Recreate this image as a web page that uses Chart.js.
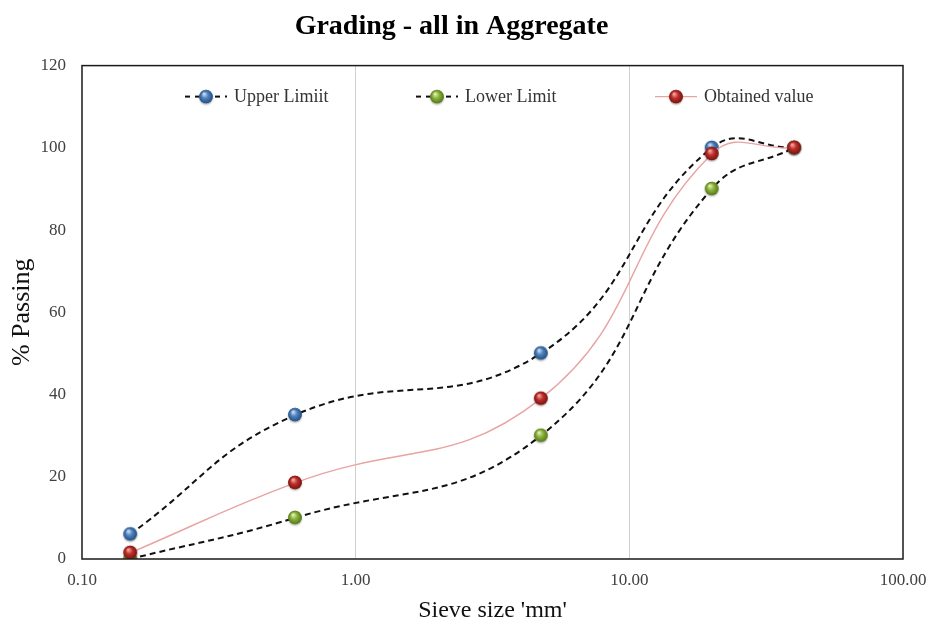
<!DOCTYPE html>
<html>
<head>
<meta charset="utf-8">
<script src="https://cdn.jsdelivr.net/npm/chart.js@4"></script>
<style>
  html, body { margin: 0; padding: 0; background: #ffffff; }
  #wrap { width: 927px; height: 631px; }
</style>
</head>
<body>
<div id="wrap"><canvas id="chart" width="927" height="631"></canvas></div>
<script>
// Sieve sizes (mm) and percentage passing
const sieveSizes = [0.15, 0.6, 4.75, 20, 40];
const upperLimit = [6, 35, 50, 100, 100];
const lowerLimit = [0, 10, 30, 90, 100];
const obtainedValue = [1.5, 18.5, 39, 98.5, 100];

const seriesNames = ['Upper Limiit', 'Lower Limit', 'Obtained value'];
const xTickValues = [0.1, 1, 10, 100];
const yTicks = { min: 0, max: 120, step: 20 };

const SERIF = '"Liberation Serif", "Times New Roman", serif';

// Glossy ball marker drawn once onto an offscreen canvas
function ballMarker(light, base, dark) {
  const size = 20, c = document.createElement('canvas');
  c.width = size; c.height = size;
  const g = c.getContext('2d');
  const cx = 10, cy = 9.5, r = 6.8;
  g.save();
  g.shadowColor = 'rgba(0,0,0,0.35)';
  g.shadowBlur = 2;
  g.shadowOffsetY = 1.2;
  g.beginPath(); g.arc(cx, cy, r, 0, Math.PI * 2);
  g.fillStyle = base; g.fill();
  g.restore();
  const grad = g.createRadialGradient(cx - 2, cy - 2.8, 0.5, cx, cy, r);
  grad.addColorStop(0, light);
  grad.addColorStop(0.45, base);
  grad.addColorStop(1, dark);
  g.beginPath(); g.arc(cx, cy, r, 0, Math.PI * 2);
  g.fillStyle = grad; g.fill();
  return c;
}

const markers = [
  ballMarker('#c9ddf5', '#4f81bd', '#25507f'),
  ballMarker('#e2f0b8', '#8cb43c', '#55761a'),
  ballMarker('#f5a7a3', '#c0302b', '#741410')
];

const lineStyles = [
  { color: '#111111', width: 2, dash: [6, 4] },
  { color: '#111111', width: 2, dash: [6, 4] },
  { color: '#e8a3a3', width: 1.4, dash: [] }
];

// Later series are painted on top of earlier ones
const drawOrder = [3, 2, 1];

function toPoints(ys) {
  return sieveSizes.map((x, i) => ({ x: x, y: ys[i] }));
}

const datasets = [upperLimit, lowerLimit, obtainedValue].map((vals, i) => ({
  label: seriesNames[i],
  data: toPoints(vals),
  order: drawOrder[i],
  borderColor: lineStyles[i].color,
  borderWidth: lineStyles[i].width,
  borderDash: lineStyles[i].dash,
  tension: 0.45,
  pointStyle: markers[i],
  pointRadius: 7,
  pointHoverRadius: 7,
  fill: false
}));

// Plot frame plus the legend row placed inside the plot area
const framePlugin = {
  id: 'frameAndLegend',
  afterDatasetsDraw(chart) {
    const { ctx, chartArea: a } = chart;
    ctx.save();
    ctx.strokeStyle = '#1a1a1a';
    ctx.lineWidth = 1.5;
    ctx.setLineDash([]);
    ctx.strokeRect(a.left, a.top, a.right - a.left, a.bottom - a.top);

    const legendY = a.top + 31;
    const centers = [a.left + 124, a.left + 355, a.left + 594];
    ctx.font = '18px ' + SERIF;
    ctx.textBaseline = 'middle';
    ctx.textAlign = 'left';
    centers.forEach((cx, i) => {
      const st = lineStyles[i];
      ctx.beginPath();
      ctx.strokeStyle = st.color;
      ctx.lineWidth = st.width;
      ctx.setLineDash(st.dash.length ? [5, 5] : []);
      ctx.moveTo(cx - 21, legendY);
      ctx.lineTo(cx + 21, legendY);
      ctx.stroke();
      ctx.setLineDash([]);
      ctx.drawImage(markers[i], cx - 10, legendY - 9.5);
      ctx.fillStyle = '#333333';
      ctx.fillText(seriesNames[i], cx + 28, legendY + 1);
    });
    ctx.restore();
  }
};

new Chart(document.getElementById('chart'), {
  type: 'line',
  data: { datasets: datasets },
  plugins: [framePlugin],
  options: {
    responsive: false,
    animation: false,
    layout: { padding: { left: 0, right: 24, top: 0, bottom: 0 } },
    plugins: {
      legend: { display: false },
      tooltip: { enabled: false },
      title: {
        display: true,
        text: 'Grading - all in Aggregate',
        color: '#000000',
        font: { family: SERIF, size: 28, weight: 'bold' },
        padding: { top: 10, bottom: 22 }
      }
    },
    scales: {
      x: {
        type: 'logarithmic',
        min: 0.1,
        max: 100,
        afterBuildTicks(scale) {
          scale.ticks = xTickValues.map(v => ({ value: v, major: true }));
        },
        afterFit(scale) {
          scale.height = 72;
          scale.paddingLeft = 0;
          scale.paddingRight = 0;
        },
        ticks: {
          autoSkip: false,
          maxRotation: 0,
          padding: 11,
          color: '#404040',
          font: { family: SERIF, size: 17 },
          callback: v => Number(v).toFixed(2)
        },
        grid: {
          drawTicks: false,
          tickLength: 0,
          lineWidth: 1,
          color: ctx => (ctx.tick && (ctx.tick.value === 1 || ctx.tick.value === 10)) ? '#cfcfcf' : 'rgba(0,0,0,0)'
        },
        border: { display: false },
        title: {
          display: true,
          text: "Sieve size 'mm'",
          color: '#111111',
          font: { family: SERIF, size: 24 },
          padding: { top: 0, bottom: 6 }
        }
      },
      y: {
        min: yTicks.min,
        max: yTicks.max,
        afterFit(scale) {
          scale.width = 82;
          scale.paddingTop = 0;
          scale.paddingBottom = 0;
        },
        ticks: {
          stepSize: yTicks.step,
          padding: 16,
          color: '#404040',
          font: { family: SERIF, size: 17 }
        },
        grid: { display: false, drawTicks: false, tickLength: 0 },
        border: { display: false },
        title: {
          display: true,
          text: '% Passing',
          color: '#111111',
          font: { family: SERIF, size: 26 },
          padding: { top: 7, bottom: 0 }
        }
      }
    }
  }
});
</script>
</body>
</html>
